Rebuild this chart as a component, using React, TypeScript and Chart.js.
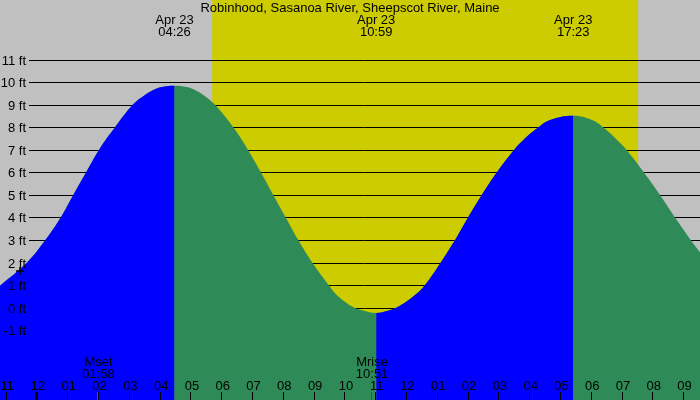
import React, { useEffect, useRef } from "react";
import { Chart, registerables } from "chart.js";

Chart.register(...registerables);

const TITLE = "Robinhood, Sasanoa River, Sheepscot River, Maine";

// tide curve: hours from midnight Apr 23, height in ft
const tideHours = [
  -1.234, -0.357, 0.237, 0.737, 1.146, 1.559, 1.981, 2.501, 3.076, 3.475, 3.745, 4.017, 4.433,
  4.829, 5.099, 5.369, 5.749, 6.343, 6.82, 7.243, 7.642, 8.045, 8.454, 8.909, 9.441, 9.701,
  10.263, 10.62, 10.983,
  11.325, 11.65, 12.244, 12.568, 13.079, 13.543, 13.966, 14.41, 14.898, 15.46, 15.762, 16.249,
  16.629, 17.383,
  17.993, 18.36, 18.805, 19.114, 19.682, 20.202, 20.689, 21.199, 21.501,
];
const tideFeet = [
  0.97, 2, 3, 4, 5, 6, 7, 8, 9, 9.44, 9.66, 9.79, 9.85,
  9.79, 9.66, 9.44, 9, 8, 7, 6, 5, 4, 3, 2, 1, 0.56,
  0, -0.15, -0.24,
  -0.15, 0, 0.56, 1, 2, 3, 4, 5, 6, 7, 7.44, 8,
  8.33, 8.52,
  8.33, 8, 7.44, 7, 6, 5, 4, 3, 2.45,
];

// high / low tide labels on top
const extremeHours = [4.433, 10.983, 17.383];
const extremeDates = ["Apr 23", "Apr 23", "Apr 23"];
const extremeTimes = ["04:26", "10:59", "17:23"];

// sunrise, sunset
const sunHours = [5.657, 19.49];

// moon events
const moonHours = [1.967, 10.85];
const moonNames = ["Mset", "Mrise"];
const moonTimes = ["01:58", "10:51"];

// current time marker
const nowHours = [-0.585];
const nowFeet = [1.62];

const hourTicks = [
  -1, 0, 1, 2, 3, 4, 5, 6, 7, 8, 9, 10, 11, 12, 13, 14, 15, 16, 17, 18, 19, 20, 21,
];
const hourLabels = [
  "11", "12", "01", "02", "03", "04", "05", "06", "07", "08", "09", "10",
  "11", "12", "01", "02", "03", "04", "05", "06", "07", "08", "09",
];
const footTicks = [-1, 0, 1, 2, 3, 4, 5, 6, 7, 8, 9, 10, 11];

const FONT = '13px "Liberation Sans", Arial, sans-serif';
const RISING = "#0000ff";
const FALLING = "#2e8b57";

const decorPlugin = {
  id: "tideDecor",
  beforeDatasetsDraw(chart: any) {
    const { ctx, scales } = chart;
    const xs = scales.x;
    const ys = scales.y;
    ctx.save();
    ctx.fillStyle = "#c0c0c0";
    ctx.fillRect(0, 0, chart.width, chart.height);
    const d0 = xs.getPixelForValue(sunHours[0]);
    const d1 = xs.getPixelForValue(sunHours[1]);
    ctx.fillStyle = "#cccc00";
    ctx.fillRect(d0, 0, d1 - d0, chart.height);

    ctx.strokeStyle = "#000";
    ctx.lineWidth = 1;
    ctx.beginPath();
    footTicks.forEach((v) => {
      const py = Math.round(ys.getPixelForValue(v)) + 0.5;
      ctx.moveTo(29, py);
      ctx.lineTo(chart.width, py);
    });
    ctx.stroke();
    ctx.restore();
  },
  afterDatasetsDraw(chart: any) {
    const { ctx, scales } = chart;
    const xs = scales.x;
    const ys = scales.y;
    ctx.save();
    ctx.font = FONT;
    ctx.fillStyle = "#000";
    ctx.textBaseline = "alphabetic";

    // title
    ctx.textAlign = "center";
    ctx.fillText(TITLE, 350, 12);

    // tide extremes
    extremeHours.forEach((h, i) => {
      const px = xs.getPixelForValue(h);
      ctx.fillText(extremeDates[i], px, 24);
      ctx.fillText(extremeTimes[i], px, 36);
    });

    // y labels
    ctx.textAlign = "right";
    footTicks.forEach((v) => {
      const py = Math.round(ys.getPixelForValue(v)) + 0.5;
      ctx.fillText(`${v} ft`, 26, py + 4);
    });

    // hour ticks + labels
    ctx.textAlign = "center";
    ctx.strokeStyle = "#000";
    hourTicks.forEach((h, i) => {
      const px = xs.getPixelForValue(h);
      const col = Math.floor(px) - 1 + 0.5;
      ctx.lineWidth = h === 0 ? 3 : 1;
      ctx.beginPath();
      ctx.moveTo(col, 392);
      ctx.lineTo(col, 400);
      ctx.stroke();
      ctx.fillText(hourLabels[i], px, 390);
    });

    // moon events
    moonHours.forEach((h, i) => {
      const px = xs.getPixelForValue(h);
      const col = Math.floor(px) - 1 + 0.5;
      ctx.strokeStyle = "#ff0000";
      ctx.lineWidth = 1;
      ctx.beginPath();
      ctx.moveTo(col, 392);
      ctx.lineTo(col, 400);
      ctx.stroke();
      ctx.fillText(moonNames[i], px, 366);
      ctx.fillText(moonTimes[i], px, 378);
    });
    ctx.restore();
  },
};

const TideChart: React.FC = () => {
  const canvasRef = useRef<HTMLCanvasElement | null>(null);

  useEffect(() => {
    if (!canvasRef.current) return;
    const tidePoints = tideHours.map((h, i) => ({ x: h, y: tideFeet[i] }));
    const chart = new Chart(canvasRef.current, {
      type: "line",
      data: {
        datasets: [
          {
            label: "now",
            data: nowHours.map((h, i) => ({ x: h, y: nowFeet[i] })),
            showLine: false,
            fill: false,
            pointStyle: "cross",
            pointRadius: 4,
            borderColor: "#000",
            borderWidth: 1.5,
            order: 0,
          },
          {
            // rising part painted on top of the falling colour
            label: "rising",
            data: tidePoints,
            fill: "start",
            backgroundColor: RISING,
            borderColor: "rgba(0,0,0,0)",
            borderWidth: 0,
            pointRadius: 0,
            tension: 0.4,
            segment: {
              backgroundColor: (c: any) =>
                c.p1.parsed.y >= c.p0.parsed.y ? RISING : "rgba(0,0,0,0)",
            },
            order: 1,
          },
          {
            label: "falling",
            data: tidePoints,
            fill: "start",
            backgroundColor: FALLING,
            borderColor: "rgba(0,0,0,0)",
            borderWidth: 0,
            pointRadius: 0,
            tension: 0.4,
            order: 2,
          },
        ],
      },
      options: {
        responsive: false,
        animation: false,
        layout: { padding: 0, autoPadding: false },
        scales: {
          x: { type: "linear", display: false, min: -1.234, max: 21.5 },
          y: { type: "linear", display: false, min: -4.101, max: 13.653 },
        },
        plugins: {
          legend: { display: false },
          tooltip: { enabled: false },
        },
      },
      plugins: [decorPlugin],
    } as any);
    return () => {
      chart.destroy();
    };
  }, []);

  return (
    <div style={{ position: "fixed", left: 0, top: 0, width: 700, height: 400 }}>
      <canvas ref={canvasRef} width={700} height={400} />
    </div>
  );
};

export default function App() {
  return <TideChart />;
}
